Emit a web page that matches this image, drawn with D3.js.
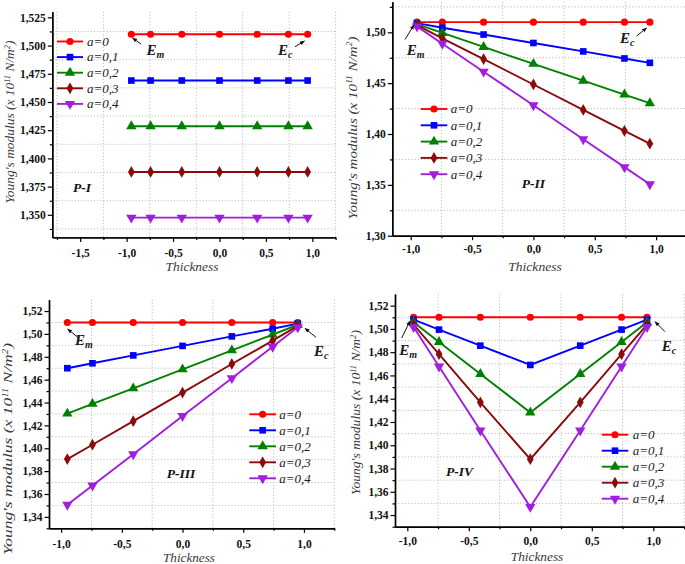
<!DOCTYPE html>
<html>
<head>
<meta charset="utf-8">
<script src="https://cdn.jsdelivr.net/npm/d3@7"></script>
<style>
  html, body { margin: 0; padding: 0; background: #fff; }
  svg { display: block; }
  text { font-family: "Liberation Serif", "Times New Roman", serif; }
</style>
</head>
<body>
<svg id="chart" width="685" height="564"></svg>
<script>
// ---------------- DATA ----------------
const thickness = [-0.949, -0.742, -0.406, 0, 0.406, 0.742, 0.949];
const seriesLabels = ["a=0", "a=0,1", "a=0,2", "a=0,3", "a=0,4"];

// P-I
const p1_a0  = [1.510, 1.510, 1.510, 1.510, 1.510, 1.510, 1.510];
const p1_a01 = [1.469, 1.469, 1.469, 1.469, 1.469, 1.469, 1.469];
const p1_a02 = [1.4285, 1.4285, 1.4285, 1.4285, 1.4285, 1.4285, 1.4285];
const p1_a03 = [1.388, 1.388, 1.388, 1.388, 1.388, 1.388, 1.388];
const p1_a04 = [1.3475, 1.3475, 1.3475, 1.3475, 1.3475, 1.3475, 1.3475];
// P-II
const p2_a0  = [1.510, 1.510, 1.510, 1.510, 1.510, 1.510, 1.510];
const p2_a01 = [1.5090, 1.5045, 1.4978, 1.4895, 1.4812, 1.4743, 1.4700];
const p2_a02 = [1.5080, 1.4994, 1.4856, 1.4690, 1.4524, 1.4388, 1.4303];
const p2_a03 = [1.5070, 1.4941, 1.4737, 1.4487, 1.4237, 1.4031, 1.3905];
const p2_a04 = [1.5058, 1.4888, 1.4613, 1.4282, 1.3948, 1.3674, 1.3506];
// P-III
const p3_a0  = [1.510, 1.510, 1.510, 1.510, 1.510, 1.510, 1.510];
const p3_a01 = [1.4700, 1.4743, 1.4812, 1.4895, 1.4978, 1.5045, 1.5090];
const p3_a02 = [1.4303, 1.4388, 1.4524, 1.4690, 1.4856, 1.4994, 1.5080];
const p3_a03 = [1.3905, 1.4031, 1.4237, 1.4487, 1.4737, 1.4941, 1.5070];
const p3_a04 = [1.3506, 1.3674, 1.3948, 1.4282, 1.4613, 1.4888, 1.5058];
// P-IV
const p4_a0  = [1.510, 1.510, 1.510, 1.510, 1.510, 1.510, 1.510];
const p4_a01 = [1.5079, 1.4994, 1.4856, 1.4690, 1.4856, 1.4994, 1.5079];
const p4_a02 = [1.5058, 1.4888, 1.4613, 1.4282, 1.4613, 1.4888, 1.5058];
const p4_a03 = [1.5037, 1.4783, 1.4369, 1.3880, 1.4369, 1.4783, 1.5037];
const p4_a04 = [1.5016, 1.4677, 1.4126, 1.3470, 1.4126, 1.4677, 1.5016];

// Tick values
const xTicksP1 = [-1.5, -1.0, -0.5, 0.0, 0.5, 1.0];
const xMinorP1 = [-1.75, -1.25, -0.75, -0.25, 0.25, 0.75, 1.25];
const xTicks = [-1.0, -0.5, 0.0, 0.5, 1.0];
const xMinor = [-0.75, -0.25, 0.25, 0.75, 1.25];
const yTicksP1 = [1.350, 1.375, 1.400, 1.425, 1.450, 1.475, 1.500, 1.525];
const yMinorP1 = [1.3375, 1.3625, 1.3875, 1.4125, 1.4375, 1.4625, 1.4875, 1.5125];
const yTicksP2 = [1.30, 1.35, 1.40, 1.45, 1.50];
const yMinorP2 = [1.325, 1.375, 1.425, 1.475, 1.525];
const yTicksP34 = [1.34, 1.36, 1.38, 1.40, 1.42, 1.44, 1.46, 1.48, 1.50, 1.52];
const yMinorP34 = [1.33, 1.35, 1.37, 1.39, 1.41, 1.43, 1.45, 1.47, 1.49, 1.51];

// ---------------- STYLE / LAYOUT ----------------
const colors = ["#ff0000", "#0000ff", "#008000", "#8b0a0a", "#a01edc"];
const symbols = ["circle", "square", "triangle", "diamond", "triangleDown"];
const titleColor = "#3a3a3a";

const panels = [
  { name: "P-I", series: [p1_a0, p1_a01, p1_a02, p1_a03, p1_a04],
    xr: [52.3, 335.6], yr: [237.4, 11.7], xDom: [-1.8, 1.25], yDom: [1.33, 1.53],
    xT: xTicksP1, xM: xMinorP1, yT: yTicksP1, yM: yMinorP1, yDec: 3, xPad: 6.5,
    legend: { x0: 57, x1: 83, tx: 87, y: 41.5, dy: 15.6 },
    label: { x: 73, y: 192 },
    yTitle: { cx: 10, cy: 122, len: 163 }, xTitle: { cx: 192, cy: 266.7, len: 53 },
    em: { tx: 146.5, ty: 55, a: [141, 44, 132.5, 38] },
    ec: { tx: 278, ty: 55, a: [295, 46.7, 304.5, 41] } },
  { name: "P-II", series: [p2_a0, p2_a01, p2_a02, p2_a03, p2_a04],
    xr: [392.3, 686.8], yr: [235.7, 1.8], xDom: [-1.15, 1.25], yDom: [1.30, 1.53],
    xT: xTicks, xM: xMinor, yT: yTicksP2, yM: yMinorP2, yDec: 2, xPad: 4.8,
    legend: { x0: 420.7, x1: 447.3, tx: 450.7, y: 109, dy: 16.3 },
    label: { x: 521.7, y: 188 },
    yTitle: { cx: 352.5, cy: 128, len: 183 }, xTitle: { cx: 535, cy: 266.7, len: 53.5 },
    em: { tx: 406.7, ty: 55, a: [405, 39.5, 414, 25] },
    ec: { tx: 620, ty: 43, a: [636.7, 36, 646.5, 28] } },
  { name: "P-III", series: [p3_a0, p3_a01, p3_a02, p3_a03, p3_a04],
    xr: [49, 334.3], yr: [528.3, 299.6], xDom: [-1.1, 1.25], yDom: [1.33, 1.53],
    xT: xTicks, xM: xMinor, yT: yTicksP34, yM: yMinorP34, yDec: 2, xPad: 7,
    legend: { x0: 249.3, x1: 276, tx: 279.3, y: 414.3, dy: 16 },
    label: { x: 166.7, y: 478 },
    yTitle: { cx: 8, cy: 449, len: 212 }, xTitle: { cx: 189, cy: 558, len: 52 },
    em: { tx: 75, ty: 345, a: [79, 338.3, 67.7, 329] },
    ec: { tx: 314, ty: 356, a: [316, 337.3, 305, 328.3] } },
  { name: "P-IV", series: [p4_a0, p4_a01, p4_a02, p4_a03, p4_a04],
    xr: [395, 684.05], yr: [526.7, 294], xDom: [-1.1, 1.25], yDom: [1.33, 1.53],
    xT: xTicks, xM: xMinor, yT: yTicksP34, yM: yMinorP34, yDec: 2, xPad: 6,
    legend: { x0: 601.7, x1: 628.3, tx: 632.7, y: 434.7, dy: 16 },
    label: { x: 446, y: 476 },
    yTitle: { cx: 355.8, cy: 412.5, len: 165 }, xTitle: { cx: 537, cy: 556.7, len: 52.6 },
    em: { tx: 399.3, ty: 355, a: [401.7, 338, 410, 321] },
    ec: { tx: 661.7, ty: 351, a: [665, 331.7, 655, 321.7] } }
];

// ---------------- DRAW ----------------
const svg = d3.select("#chart");
const defs = svg.append("defs");
defs.append("marker").attr("id", "arrow").attr("viewBox", "0 0 10 10")
  .attr("refX", 9).attr("refY", 5).attr("markerWidth", 5).attr("markerHeight", 5)
  .attr("orient", "auto")
  .append("path").attr("d", "M0,1L10,5L0,9Z").attr("fill", "#111");

function symbolPath(kind) {
  if (kind === "circle") return d3.symbol(d3.symbolCircle, 40)();
  if (kind === "square") return d3.symbol(d3.symbolSquare, 44)();
  if (kind === "triangle") return d3.symbol(d3.symbolTriangle, 46)();
  if (kind === "triangleDown") return d3.symbol(d3.symbolTriangle, 46)();
  return d3.symbol(d3.symbolDiamond, 40)();
}
// stretch a text along its writing direction to a target length
function stretchTo(textSel, len) {
  const w = textSel.node().getBBox().width;
  textSel.attr("transform", `scale(${len / w},1)`);
}
const comma = (v, dec) => v.toFixed(dec).replace(".", ",");

panels.forEach(p => {
  const x = d3.scaleLinear().domain(p.xDom).range(p.xr);
  const y = d3.scaleLinear().domain(p.yDom).range(p.yr);
  const g = svg.append("g");
  const left = p.xr[0], right = Math.min(p.xr[1], 685), top = p.yr[1], bottom = p.yr[0];

  // grid at minor positions
  const grid = g.append("g").attr("stroke", "#bdbdbd").attr("stroke-width", 1)
    .attr("stroke-dasharray", "1.2,2");
  p.yM.forEach(v => grid.append("line").attr("x1", left).attr("x2", right)
    .attr("y1", y(v)).attr("y2", y(v)));
  p.xM.forEach(v => { if (x(v) <= 685) grid.append("line").attr("x1", x(v)).attr("x2", x(v))
    .attr("y1", top).attr("y2", bottom); });

  // axes
  const axY = d3.axisLeft(y).tickValues(p.yT).tickSize(4.5).tickSizeOuter(0).tickPadding(2)
    .tickFormat(d => comma(d, p.yDec));
  const axYm = d3.axisLeft(y).tickValues(p.yM).tickSize(2.5).tickSizeOuter(0).tickFormat("");
  const axX = d3.axisBottom(x).tickValues(p.xT).tickSize(4.5).tickSizeOuter(0).tickPadding(p.xPad)
    .tickFormat(d => comma(d, 1));
  const axXm = d3.axisBottom(x).tickValues(p.xM).tickSize(2.5).tickSizeOuter(0).tickFormat("");

  [ [axYm, `translate(${left},0)`], [axY, `translate(${left},0)`],
    [axXm, `translate(0,${bottom})`], [axX, `translate(0,${bottom})`] ].forEach(([ax, tr]) => {
    const a = g.append("g").attr("transform", tr).call(ax);
    a.select(".domain").attr("stroke", "#000").attr("stroke-width", 1.4);
    a.selectAll(".tick line").attr("stroke", "#000").attr("stroke-width", 1.2);
    a.selectAll(".tick text").attr("fill", "#111").attr("font-size", 11.5)
      .attr("font-weight", "bold").attr("font-family", "'Liberation Serif', serif");
  });

  // series
  const line = d3.line().x((d, i) => x(thickness[i])).y(d => y(d));
  p.series.forEach((vals, si) => {
    const sg = g.append("g");
    sg.append("path").datum(vals).attr("d", line).attr("fill", "none")
      .attr("stroke", colors[si]).attr("stroke-width", 1.9);
    sg.selectAll("path.pt").data(vals).enter().append("path").attr("class", "pt")
      .attr("d", symbolPath(symbols[si]))
      .attr("transform", (d, i) => `translate(${x(thickness[i])},${y(d)})` +
        (symbols[si] === "triangleDown" ? " rotate(180)" : ""))
      .attr("fill", colors[si]);
  });

  // legend
  const L = p.legend;
  seriesLabels.forEach((lab, si) => {
    const yy = L.y + si * L.dy;
    g.append("line").attr("x1", L.x0).attr("x2", L.x1).attr("y1", yy).attr("y2", yy)
      .attr("stroke", colors[si]).attr("stroke-width", 1.9);
    g.append("path").attr("d", symbolPath(symbols[si]))
      .attr("transform", `translate(${(L.x0 + L.x1) / 2},${yy})` +
        (symbols[si] === "triangleDown" ? " rotate(180)" : ""))
      .attr("fill", colors[si]);
    g.append("text").attr("x", L.tx).attr("y", yy + 4.3).attr("font-size", 13)
      .attr("font-style", "italic").attr("fill", "#1a1a1a").text(lab);
  });

  // panel label
  g.append("text").attr("x", p.label.x).attr("y", p.label.y).attr("font-size", 13.5)
    .attr("font-weight", "bold").attr("font-style", "italic").attr("fill", "#111").text(p.name);

  // E annotations
  [["m", p.em], ["c", p.ec]].forEach(([sub, e]) => {
    const t = g.append("text").attr("x", e.tx).attr("y", e.ty).attr("font-size", 15)
      .attr("font-weight", "bold").attr("font-style", "italic").attr("fill", "#1a1a1a");
    t.append("tspan").text("E");
    t.append("tspan").attr("font-size", 10).attr("dy", 3).text(sub);
    g.append("line").attr("x1", e.a[0]).attr("y1", e.a[1]).attr("x2", e.a[2]).attr("y2", e.a[3])
      .attr("stroke", "#111").attr("stroke-width", 1).attr("marker-end", "url(#arrow)");
  });

  // y title (rotated, stretched along its length)
  const yt = g.append("g").attr("transform", `translate(${p.yTitle.cx},${p.yTitle.cy}) rotate(-90)`)
    .append("text").attr("text-anchor", "middle").attr("dy", "0.33em").attr("font-size", 13)
    .attr("font-style", "italic").attr("fill", titleColor);
  yt.append("tspan").text("Young's modulus (x 10");
  yt.append("tspan").attr("baseline-shift", "super").attr("font-size", "0.62em").text("11");
  yt.append("tspan").text(" N/m");
  yt.append("tspan").attr("baseline-shift", "super").attr("font-size", "0.62em").text("2");
  yt.append("tspan").text(")");
  stretchTo(yt, p.yTitle.len);

  // x title
  const xtg = g.append("g").attr("transform", `translate(${p.xTitle.cx},${p.xTitle.cy})`);
  const xt = xtg.append("text").attr("text-anchor", "middle").attr("dy", "0.33em")
    .attr("font-size", 13.5).attr("font-style", "italic").attr("fill", titleColor).text("Thickness");
  stretchTo(xt, p.xTitle.len);
});
</script>
</body>
</html>
